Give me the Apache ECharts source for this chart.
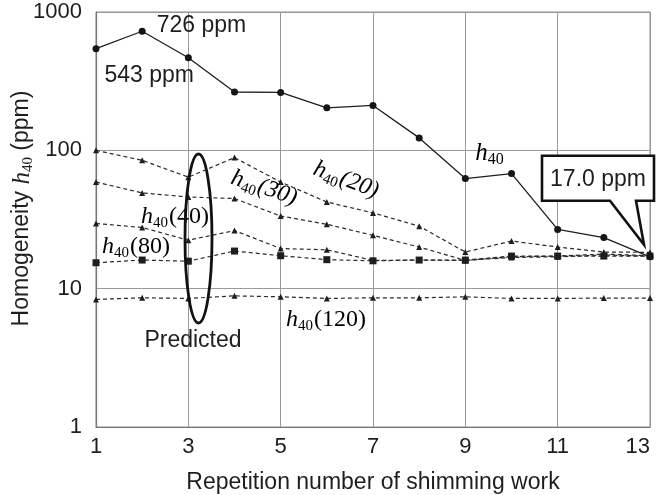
<!DOCTYPE html>
<html>
<head>
<meta charset="utf-8">
<script src="https://cdn.jsdelivr.net/npm/echarts@6/dist/echarts.min.js"></script>
<style>
  html, body { margin: 0; padding: 0; background: #fff; }
  #chart { width: 656px; height: 495px; }
</style>
</head>
<body>
<div id="chart"></div>
<script>
// Repetition number of the shimming work (x axis categories)
const repetitions = ['1', '2', '3', '4', '5', '6', '7', '8', '9', '10', '11', '12', '13'];

// Measured field homogeneity h40 (ppm)
const h40Measured = [543, 726, 467, 264, 262, 203, 211, 123, 62.5, 67.9, 26.8, 23.4, 17.0];

// Predicted homogeneity for different truncation orders (ppm)
const h40Pred20  = [100, 84.7, 64, 88.6, 59, 42.3, 35.3, 28.3, 18.4, 22.1, 20.0, 18.4, 18.3];
const h40Pred30  = [59, 49.2, 46, 44.8, 33.5, 29.2, 24.3, 20.0, 16.0, 17.0, 17.2, 17.8, 17.3];
const h40Pred40  = [29.6, 27.7, 22.4, 26.3, 19.5, 19.1, 16.0, 16.1, 16.0, 16.8, 17.0, 17.5, 17.2];
const h40Pred80  = [15.4, 16.1, 15.8, 18.7, 17.3, 16.2, 15.9, 16.1, 16.1, 17.2, 17.2, 17.2, 17.2];
const h40Pred120 = [8.36, 8.59, 8.5, 8.87, 8.73, 8.5, 8.59, 8.59, 8.73, 8.5, 8.5, 8.55, 8.55];

// Log-scale tick values on the y axis
const yTicks = [1, 10, 100, 1000];

const SANS = '"Liberation Sans", Arial, sans-serif';
const SERIF = '"Liberation Serif", "Times New Roman", serif';
const INK = '#1e1e1e';

const chart = echarts.init(document.getElementById('chart'), null, { renderer: 'canvas' });

// Rich-text styles for "h" with a "40" subscript
function hRich(size, italicSuffix) {
  return {
    h: { fontFamily: SERIF, fontStyle: 'italic', fontSize: size, color: INK, lineHeight: size + 4, verticalAlign: 'middle' },
    s: { fontFamily: SERIF, fontSize: Math.round(size * 0.62), color: INK, lineHeight: size + 4, verticalAlign: 'bottom', padding: [0, 1, 0, 0] },
    p: { fontFamily: SERIF, fontStyle: italicSuffix ? 'italic' : 'normal', fontSize: size, color: INK, lineHeight: size + 4, verticalAlign: 'middle' }
  };
}

const dashed = { type: [4, 3], width: 1.2, color: '#2a2a2a' };

function predSeries(name, data, symbol, size) {
  return {
    name: name,
    type: 'line',
    data: data,
    symbol: symbol,
    symbolSize: size,
    itemStyle: { color: '#1e1e1e' },
    lineStyle: dashed,
    z: 3
  };
}

const measuredData = h40Measured.map(function (v, i) {
  if (i === 1) {
    return { value: v, label: { show: true, formatter: v + ' ppm', position: 'right', offset: [6, -6], fontFamily: SANS, fontSize: 23, color: INK } };
  }
  if (i === 0) {
    return { value: v, label: { show: true, formatter: v + ' ppm', position: 'right', offset: [0, 27], fontFamily: SANS, fontSize: 23, color: INK } };
  }
  return v;
});

const option = {
  animation: false,
  backgroundColor: '#ffffff',
  grid: { left: 96, right: 6, top: 12, bottom: 68, containLabel: false, outerBoundsMode: 'none', show: true, borderColor: '#8a8a8a', borderWidth: 1 },
  xAxis: {
    type: 'category',
    data: repetitions,
    boundaryGap: false,
    name: 'Repetition number of shimming work',
    nameLocation: 'middle',
    nameGap: 44,
    nameMoveOverlap: false,
    nameTextStyle: { fontFamily: SANS, fontSize: 23, color: INK },
    axisLine: { lineStyle: { color: '#777', width: 1.2 } },
    axisTick: { show: false },
    axisLabel: { interval: 1, margin: 9, fontFamily: SANS, fontSize: 22, color: INK, alignMaxLabel: 'right' },
    splitLine: { show: true, interval: 1, lineStyle: { color: '#9a9a9a', width: 1 } }
  },
  yAxis: {
    type: 'log',
    logBase: 10,
    min: yTicks[0],
    max: yTicks[yTicks.length - 1],
    name: 'Homogeneity {h|h}{s|40} (ppm)',
    nameLocation: 'middle',
    nameRotate: 90,
    nameGap: 60,
    nameMoveOverlap: false,
    nameTextStyle: {
      fontFamily: SANS, fontSize: 23, color: INK, lineHeight: 28, padding: [0, 0, 0, 22],
      rich: {
        h: { fontFamily: SERIF, fontStyle: 'italic', fontSize: 25, color: INK, lineHeight: 28, verticalAlign: 'middle' },
        s: { fontFamily: SERIF, fontSize: 15, color: INK, lineHeight: 28, verticalAlign: 'bottom' }
      }
    },
    axisLine: { show: true, lineStyle: { color: '#777', width: 1.2 } },
    axisTick: { show: false },
    axisLabel: {
      margin: 14, fontFamily: SANS, fontSize: 22, color: INK,
      formatter: function (v) { return String(v); }
    },
    splitLine: { show: true, lineStyle: { color: '#9a9a9a', width: 1 } },
    minorSplitLine: { show: false }
  },
  series: [
    {
      name: 'h40',
      type: 'line',
      data: measuredData,
      symbol: 'circle',
      symbolSize: 7,
      itemStyle: { color: '#151515' },
      lineStyle: { color: '#1e1e1e', width: 1.3 },
      z: 4
    },
    predSeries('h40(20)', h40Pred20, 'triangle', 6),
    predSeries('h40(30)', h40Pred30, 'triangle', 6),
    predSeries('h40(40)', h40Pred40, 'triangle', 6),
    predSeries('h40(80)', h40Pred80, 'rect', 7),
    predSeries('h40(120)', h40Pred120, 'triangle', 6)
  ]
};

chart.setOption(option);

// Callout for the final measured value and the series annotations
const last = h40Measured.length - 1;
const tip = chart.convertToPixel({ xAxisIndex: 0, yAxisIndex: 0 }, [repetitions[last], h40Measured[last]]);
const tx = tip[0] - 6, ty = tip[1] - 12;
const boxL = tx - 102, boxR = tx + 10, boxT = ty - 89, boxB = ty - 44;

function label(text, x, y, size, rot, italicSuffix) {
  return {
    type: 'text', x: x, y: y, rotation: rot || 0, z: 50,
    style: { text: text, rich: hRich(size, italicSuffix), align: 'center', verticalAlign: 'middle' }
  };
}

chart.setOption({
  graphic: [
    {
      type: 'polygon', z: 60,
      shape: { points: [[boxL, boxT], [boxR, boxT], [boxR, boxB], [tx - 8, boxB], [tx, ty], [tx - 34, boxB], [boxL, boxB]] },
      style: { fill: '#fff', stroke: '#111', lineWidth: 2.6, lineJoin: 'miter' }
    },
    {
      type: 'text', z: 61, x: (boxL + boxR) / 2, y: (boxT + boxB) / 2 + 1,
      style: { text: h40Measured[last].toFixed(1) + ' ppm', fontFamily: SANS, fontSize: 23, fill: INK, align: 'center', verticalAlign: 'middle' }
    },
    {
      type: 'ellipse', z: 55,
      shape: { cx: 198.5, cy: 238.5, rx: 13.5, ry: 84.5 },
      style: { fill: 'none', stroke: '#111', lineWidth: 2.8 }
    },
    {
      type: 'text', z: 50, x: 193, y: 341,
      style: { text: 'Predicted', fontFamily: SANS, fontSize: 23, fill: INK, align: 'center', verticalAlign: 'middle' }
    },
    label('{h|h}{s|40}', 490, 153, 25, 0, false),
    label('{h|h}{s|40}{p|(20)}', 346, 180, 24, -0.36, true),
    label('{h|h}{s|40}{p|(30)}', 264, 188, 24, -0.32, true),
    label('{h|h}{s|40}{p|(40)}', 175, 217, 24, 0, false),
    label('{h|h}{s|40}{p|(80)}', 136, 247, 24, 0, false),
    label('{h|h}{s|40}{p|(120)}', 326, 320, 24, 0, false)
  ]
});
</script>
</body>
</html>
